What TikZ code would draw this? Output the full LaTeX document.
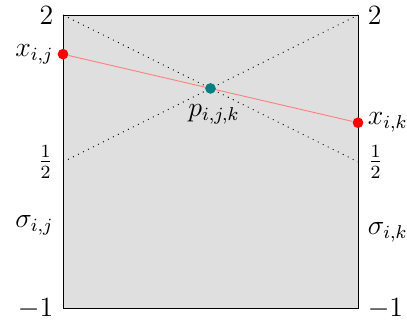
\documentclass[tikz,border=0pt]{standalone}
\usepackage{amsmath}
\tikzset{
  dot/.style={circle, fill, inner sep=0pt, minimum size=4.6pt},
  lbl/.style={inner sep=4pt},
}
\begin{document}
\begin{tikzpicture}[x=4.46cm, y=1.48cm]
\useasboundingbox (-0.2136,-1.152) rectangle (1.166,2.1535);
\draw[fill=gray!25] (0,-1) rectangle (1,2);
\coordinate (tl) at (0,2);
\coordinate (tr) at (1,2);
\coordinate (ml) at (0,0.5);
\coordinate (mr) at (1,0.5);
\coordinate (bl) at (0,-1);
\coordinate (br) at (1,-1);
\draw[dotted] (tl) -- (mr);
\draw[dotted] (ml) -- (tr);
% axis values
\node[lbl, left] (twol) at (tl) {\large $2$};
\node[lbl, right] (twor) at (tr) {\large $2$};
\node[lbl, left] (halfl) at (ml) {\large $\frac{1}{2}$};
\node[lbl, right] (halfr) at (mr) {\large $\frac{1}{2}$};
\node[lbl, left] (onel) at (bl) {\large $-1$};
\node[lbl, right] (oner) at (br) {\large $-1$};
\node[lbl, left] (sij) at (0,-0.15) {\large $\sigma_{i,j}$};
\node[lbl, right] (sik) at (1,-0.22) {\large $\sigma_{i,k}$};
% points
\node[dot, red] (xij) at (0,1.6) {};
\node[dot, red] (xik) at (1,0.9) {};
\draw[red!50] (xij) -- (xik);
\node[dot, teal] (pijk) at (0.5,1.25) {};
\node[inner sep=1.5pt, left] (xijl) at (xij.west) {\large $x_{i,j}$};
\node[inner sep=1.5pt, right] (xikl) at (xik.east) {\large $x_{i,k}$};
\node[below, xshift=1.5pt, yshift=-1pt] (pijkl) at (pijk.south) {\large $p_{i,j,k}$};
\end{tikzpicture}
\end{document}
